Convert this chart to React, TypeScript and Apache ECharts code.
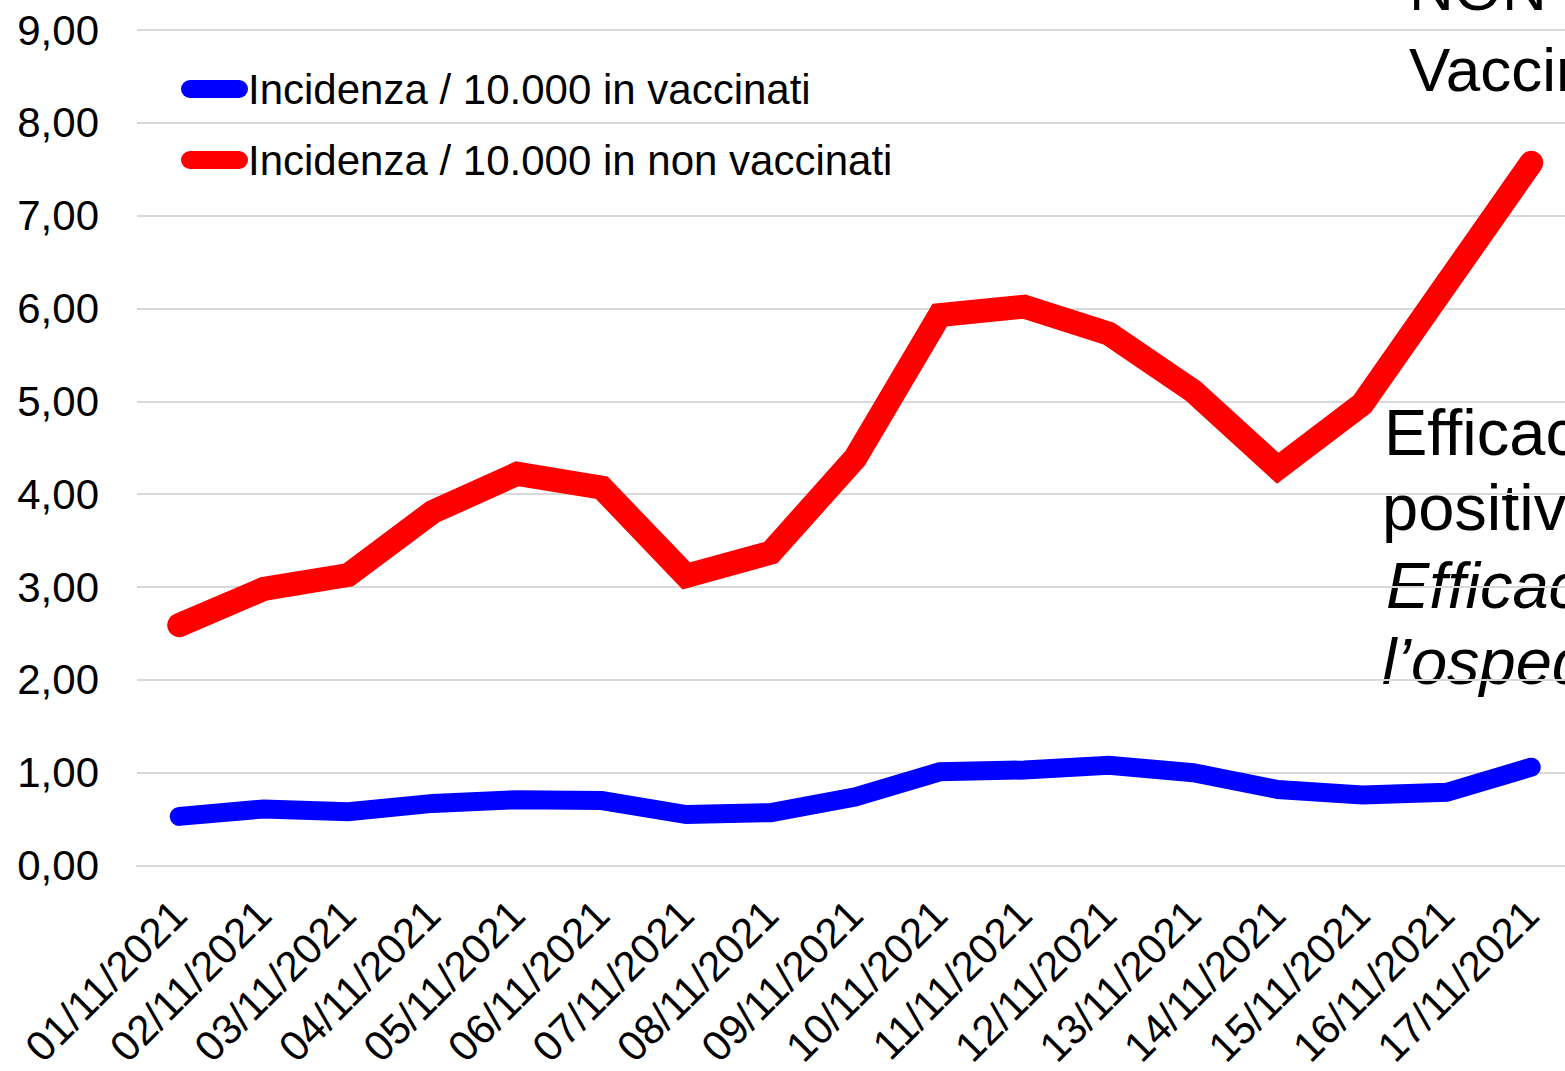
import React, { useEffect, useRef } from "react";
import * as echarts from "echarts";

const categories = [
  "01/11/2021", "02/11/2021", "03/11/2021", "04/11/2021", "05/11/2021", "06/11/2021",
  "07/11/2021", "08/11/2021", "09/11/2021", "10/11/2021", "11/11/2021", "12/11/2021",
  "13/11/2021", "14/11/2021", "15/11/2021", "16/11/2021", "17/11/2021",
];
const vaccinati = [0.53, 0.61, 0.58, 0.67, 0.71, 0.7, 0.55, 0.57, 0.74, 1.01, 1.03, 1.08, 1.0, 0.82, 0.76, 0.79, 1.06];
const nonVaccinati = [2.59, 2.98, 3.13, 3.81, 4.22, 4.07, 3.12, 3.37, 4.39, 5.93, 6.02, 5.73, 5.11, 4.28, 4.97, 6.27, 7.57];
const seriesNames = ["Incidenza / 10.000 in vaccinati", "Incidenza / 10.000 in non vaccinati"];
const sideTexts = [
  { text: "NON", x: 1409, y: -12, italic: false, size: 62 },
  { text: "Vaccinati", x: 1409, y: 69, italic: false, size: 62 },
  { text: "Efficacia", x: 1384, y: 432, italic: false, size: 65 },
  { text: "positività", x: 1382, y: 507, italic: false, size: 65 },
  { text: "Efficacia", x: 1386, y: 585, italic: true, size: 65 },
  { text: "l’ospedalizzazione", x: 1382, y: 661, italic: true, size: 65 },
];

const FONT = '"Liberation Sans", Arial, sans-serif';
const pill = "path://M9,0 L58,0 A9,9 0 0 1 58,18 L9,18 A9,9 0 0 1 9,0 Z";

export default function App() {
  const ref = useRef<HTMLDivElement>(null);
  useEffect(() => {
    const chart = echarts.init(ref.current!, null, { renderer: "svg" });
    chart.setOption({
      animation: false,
      backgroundColor: "#ffffff",
      grid: { left: 137, right: 6.5, top: 30, bottom: 1071 - 869, containLabel: false },
      legend: {
        orient: "vertical",
        left: 176,
        top: 61,
        itemWidth: 67,
        itemHeight: 18,
        itemGap: 25,
        icon: pill,
        textStyle: { fontSize: 42, fontFamily: FONT, color: "#000", lineHeight: 46, padding: [0, 0, 0, -5] },
        data: seriesNames,
      },
      xAxis: {
        type: "category",
        data: categories,
        boundaryGap: true,
        axisLine: { show: true, lineStyle: { color: "#d9d9d9", width: 2 } },
        axisTick: { show: false },
        axisLabel: { interval: 0, rotate: 45, fontSize: 42, fontFamily: FONT, color: "#000", margin: 42 },
      },
      yAxis: {
        type: "value",
        min: 0,
        max: 9,
        interval: 1,
        axisLine: { show: false },
        axisTick: { show: false },
        splitLine: { lineStyle: { color: "#d9d9d9", width: 2 } },
        axisLabel: {
          fontSize: 42,
          fontFamily: FONT,
          color: "#000",
          margin: 38,
          formatter: (v: number) => v.toFixed(2).replace(".", ","),
        },
      },
      series: [
        {
          name: seriesNames[0],
          type: "line",
          data: vaccinati,
          showSymbol: false,
          symbol: "none",
          color: "#0000ff",
          lineStyle: { color: "#0000ff", width: 19, cap: "round", join: "miter" },
        },
        {
          name: seriesNames[1],
          type: "line",
          data: nonVaccinati,
          showSymbol: false,
          symbol: "none",
          color: "#ff0000",
          lineStyle: { color: "#ff0000", width: 24, cap: "round", join: "miter" },
        },
      ],
      graphic: sideTexts.map((t) => ({
        type: "text",
        x: t.x,
        y: t.y,
        style: {
          text: t.text,
          fontSize: t.size,
          fontFamily: FONT,
          fontStyle: t.italic ? "italic" : "normal",
          fill: "#000",
          verticalAlign: "middle",
        },
      })),
    });
    return () => chart.dispose();
  }, []);
  return (
    <div style={{ position: "absolute", left: 0, top: 0, width: 1565, height: 1071, overflow: "hidden", background: "#fff" }}>
      <div ref={ref} style={{ width: 1580, height: 1071 }} />
    </div>
  );
}
